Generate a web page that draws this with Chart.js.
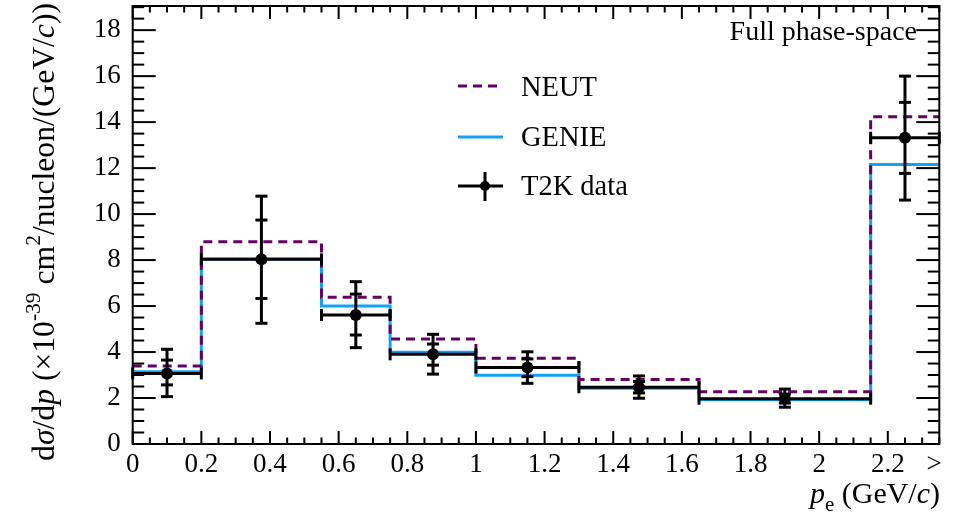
<!DOCTYPE html>
<html><head><meta charset="utf-8">
<script src="https://cdn.jsdelivr.net/npm/chart.js@4/dist/chart.umd.min.js"></script>
<style>html,body{margin:0;padding:0;background:#fff}#c{display:block}</style>
</head><body>
<div style="width:953px;height:522px"><canvas id="c" width="953" height="522"></canvas></div>
<script>
const binEdges    = [0, 0.2, 0.55, 0.75, 1.0, 1.3, 1.65, 2.15, 2.35];
const binCenters  = [0.1, 0.375, 0.65, 0.875, 1.15, 1.475, 1.9, 2.25];
const neutValues  = [3.39, 8.80, 6.38, 4.57, 3.73, 2.81, 2.27, 14.23];
const genieValues = [3.14, 8.05, 6.00, 3.99, 2.99, 2.42, 1.93, 12.16];
const dataValues  = [3.07, 8.03, 5.61, 3.90, 3.33, 2.47, 1.97, 13.32];
const dataTotalHigh = [4.12, 10.78, 7.06, 4.77, 4.01, 2.96, 2.39, 16.00];
const dataTotalLow  = [2.06, 5.25, 4.19, 3.04, 2.64, 1.99, 1.60, 10.61];
const dataStatHigh  = [3.65, 9.74, 6.52, 4.35, 3.70, 2.72, 2.17, 14.86];
const dataStatLow   = [2.57, 6.33, 4.74, 3.43, 2.93, 2.22, 1.78, 11.77];
const xTickValues = [0, 0.2, 0.4, 0.6, 0.8, 1.0, 1.2, 1.4, 1.6, 1.8, 2.0, 2.2, 2.335];
const xTickLabels = ['0', '0.2', '0.4', '0.6', '0.8', '1', '1.2', '1.4', '1.6', '1.8', '2', '2.2', '>'];
const yTickValues = [0, 2, 4, 6, 8, 10, 12, 14, 16, 18];
const yTickLabels = ['0', '2', '4', '6', '8', '10', '12', '14', '16', '18'];
const seriesLabels = ['T2K data', 'NEUT', 'GENIE'];
const cornerLabel = 'Full phase-space';

const FONT = '"Liberation Serif", "DejaVu Serif", serif';
const NEUT_COLOR = '#650065';
const GENIE_COLOR = '#14a0f5';

function histPoints(vals) {
  const pts = vals.map((v, i) => ({x: binEdges[i], y: v}));
  pts.push({x: binEdges[binEdges.length - 1], y: vals[vals.length - 1]});
  return pts;
}

function setFont(ctx, size, italic) {
  ctx.font = (italic ? 'italic ' : '') + size + 'px ' + FONT;
}
function richWidth(ctx, parts) {
  let w = 0;
  for (const p of parts) { setFont(ctx, p.s, p.it); w += ctx.measureText(p.t).width; }
  return w;
}
function drawRich(ctx, parts, x, y) {
  let cx = x;
  for (const p of parts) {
    setFont(ctx, p.s, p.it);
    ctx.fillText(p.t, cx, y + (p.dy || 0));
    cx += ctx.measureText(p.t).width;
  }
}
function seg(ctx, x1, y1, x2, y2) {
  ctx.beginPath(); ctx.moveTo(x1, y1); ctx.lineTo(x2, y2); ctx.stroke();
}
function yTitleParts(S) {
  const SS = S * 0.68, up = -S * 0.45;
  return [
    {t: 'd', s: S}, {t: 'σ', s: S, it: true}, {t: '/d', s: S}, {t: 'p', s: S, it: true},
    {t: ' (×10', s: S}, {t: '-39', s: SS, dy: up}, {t: ' cm', s: S}, {t: '2', s: SS, dy: up},
    {t: '/nucleon/(GeV/', s: S}, {t: 'c', s: S, it: true}, {t: '))', s: S}
  ];
}

const rootPlugin = {
  id: 'rootStyle',
  beforeDatasetDraw(chart, args) {
    if (args.index !== 0) return;
    const ctx = chart.ctx, xs = chart.scales.x, ys = chart.scales.y;
    ctx.save();
    ctx.strokeStyle = '#000';
    ctx.lineWidth = 3;
    const cap = 6;
    for (let i = 0; i < dataValues.length; i++) {
      const xl = xs.getPixelForValue(binEdges[i]);
      const xr = xs.getPixelForValue(binEdges[i + 1]);
      const xc = xs.getPixelForValue(binCenters[i]);
      const yc = ys.getPixelForValue(dataValues[i]);
      seg(ctx, xl, yc, xr, yc);
      seg(ctx, xl, yc - cap, xl, yc + cap);
      seg(ctx, xr, yc - cap, xr, yc + cap);
      const yt = ys.getPixelForValue(dataTotalHigh[i]);
      const yb = ys.getPixelForValue(dataTotalLow[i]);
      seg(ctx, xc, yt, xc, yb);
      seg(ctx, xc - cap, yt, xc + cap, yt);
      seg(ctx, xc - cap, yb, xc + cap, yb);
      const st = ys.getPixelForValue(dataStatHigh[i]);
      const sb = ys.getPixelForValue(dataStatLow[i]);
      seg(ctx, xc - cap, st, xc + cap, st);
      seg(ctx, xc - cap, sb, xc + cap, sb);
    }
    ctx.restore();
  },
  afterDraw(chart) {
    const ctx = chart.ctx, xs = chart.scales.x, ys = chart.scales.y;
    const a = chart.chartArea;
    ctx.save();
    ctx.strokeStyle = '#000';
    ctx.lineWidth = 2;
    ctx.lineCap = 'butt';
    const xmax = xs.max;
    for (let k = 0; k * 0.05 <= xmax + 1e-9; k++) {
      const v = k * 0.05;
      const px = xs.getPixelForValue(v);
      const major = (k % 4 === 0);
      const len = major ? 13 : 6.5;
      seg(ctx, px, a.bottom, px, a.bottom - len);
      seg(ctx, px, a.top, px, a.top + len);
    }
    for (let k = 0; k * 0.5 <= ys.max + 1e-9; k++) {
      const v = k * 0.5;
      const py = ys.getPixelForValue(v);
      const major = (k % 4 === 0);
      const len = major ? 23 : 11.5;
      seg(ctx, a.left, py, a.left + len, py);
      seg(ctx, a.right, py, a.right - len, py);
    }
    ctx.strokeRect(a.left, a.top, a.right - a.left, a.bottom - a.top);

    ctx.fillStyle = '#000';
    ctx.textBaseline = 'alphabetic';
    ctx.textAlign = 'left';
    const w28 = richWidth(ctx, yTitleParts(28));
    const S = 28 * 458 / w28;
    const yParts = yTitleParts(S);
    const yw = richWidth(ctx, yParts);
    ctx.save();
    ctx.translate(54, 3 + yw);
    ctx.rotate(-Math.PI / 2);
    drawRich(ctx, yParts, 0, 0);
    ctx.restore();
    const xParts = [
      {t: 'p', s: 30, it: true}, {t: 'e', s: 21, dy: 8}, {t: ' (GeV/', s: 30},
      {t: 'c', s: 30, it: true}, {t: ')', s: 30}
    ];
    const xw = richWidth(ctx, xParts);
    drawRich(ctx, xParts, 940 - xw, 503);
    setFont(ctx, 28, false);
    ctx.textAlign = 'right';
    ctx.fillText(cornerLabel, 917, 40);
    ctx.textAlign = 'left';

    const ds = chart.data.datasets;
    const lx1 = 458, lx2 = 503, tx = 521;
    setFont(ctx, 28.5, false);
    ctx.save();
    ctx.strokeStyle = NEUT_COLOR; ctx.lineWidth = 3; ctx.setLineDash([9, 6]);
    seg(ctx, lx1, 86, lx2, 86);
    ctx.restore();
    ctx.fillText(ds[1].label, tx, 96);
    ctx.save();
    ctx.strokeStyle = GENIE_COLOR; ctx.lineWidth = 3;
    seg(ctx, lx1, 137, lx2, 137);
    ctx.restore();
    ctx.fillText(ds[2].label, tx, 146);
    ctx.save();
    ctx.strokeStyle = '#000'; ctx.lineWidth = 3;
    seg(ctx, lx1, 186, lx2, 186);
    seg(ctx, 485, 172, 485, 201);
    ctx.beginPath(); ctx.arc(485, 186, 5, 0, Math.PI * 2); ctx.fill();
    ctx.restore();
    ctx.fillText(ds[0].label, tx, 195);
    ctx.restore();
  }
};

const LEFT = 132.7, RIGHT = 939.3, TOP = 6, BOTTOM = 444;

new Chart(document.getElementById('c'), {
  type: 'scatter',
  data: {
    datasets: [
      {
        label: seriesLabels[0], type: 'scatter', order: 0,
        data: binCenters.map((x, i) => ({x, y: dataValues[i]})),
        pointRadius: 6, pointBackgroundColor: '#000', pointBorderColor: '#000', pointBorderWidth: 0,
        clip: false
      },
      {
        label: seriesLabels[1], type: 'line', order: 1,
        data: histPoints(neutValues), stepped: true,
        borderColor: NEUT_COLOR, borderWidth: 3, borderDash: [9, 6], pointRadius: 0, fill: false
      },
      {
        label: seriesLabels[2], type: 'line', order: 2,
        data: histPoints(genieValues), stepped: true,
        borderColor: GENIE_COLOR, borderWidth: 3, pointRadius: 0, fill: false
      }
    ]
  },
  options: {
    responsive: false, animation: false, devicePixelRatio: 1,
    layout: {padding: {left: 0, right: 953 - RIGHT, top: TOP, bottom: 0}},
    plugins: {legend: {display: false}, tooltip: {enabled: false}},
    scales: {
      x: {
        type: 'linear', min: 0, max: 2.35,
        grid: {display: false}, border: {display: false},
        afterBuildTicks: s => { s.ticks = xTickValues.map(v => ({value: v})); },
        afterFit: s => { s.height = 522 - BOTTOM; s.paddingLeft = 0; s.paddingRight = 0; },
        ticks: {
          font: {family: FONT, size: 27}, color: '#000', padding: -3,
          autoSkip: false, maxRotation: 0, minRotation: 0,
          callback: (v, i) => xTickLabels[i]
        }
      },
      y: {
        type: 'linear', min: 0, max: 19.05,
        grid: {display: false}, border: {display: false},
        afterBuildTicks: s => { s.ticks = yTickValues.map(v => ({value: v})); },
        afterFit: s => { s.width = LEFT; s.paddingTop = 0; s.paddingBottom = 0; },
        ticks: {
          font: {family: FONT, size: 27}, color: '#000', padding: 4,
          autoSkip: false,
          callback: (v, i) => yTickLabels[i]
        }
      }
    }
  },
  plugins: [rootPlugin]
});
</script>
</body></html>
